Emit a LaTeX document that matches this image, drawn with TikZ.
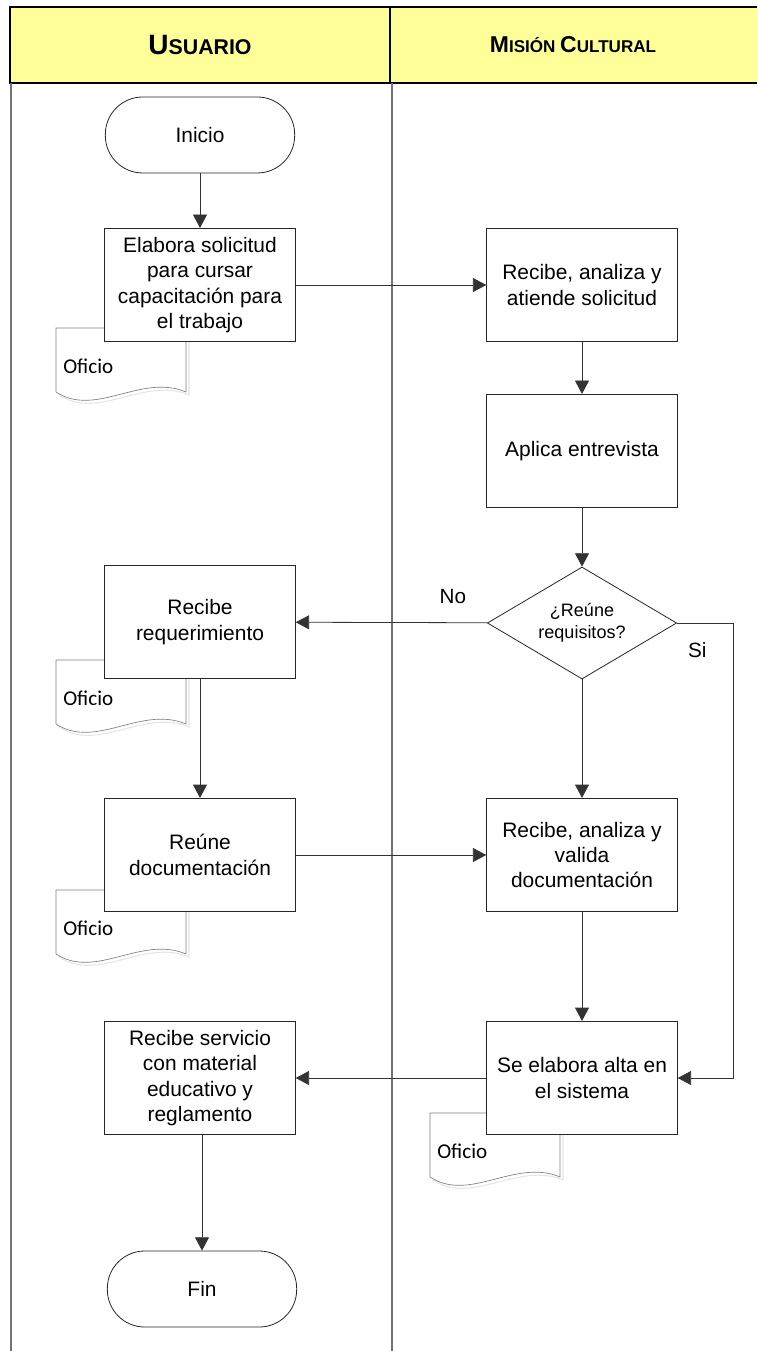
\documentclass[tikz,border=0pt]{standalone}
\usepackage{fontspec}
\setmainfont{Liberation Sans}
\newfontfamily\boxfont{Liberation Sans}
\newfontfamily\oficiofont{Carlito}
\usetikzlibrary{shapes.geometric,arrows.meta}
\definecolor{lanehead}{HTML}{FFFF99}

% document symbol with its label
\newcommand{\oficio}[3]{%
    \draw[docshadow] (#1+3,#2+3) -- ++(130,0) -- ++(0,64)
        .. controls ++(-45,-19) and ++(40,26) .. ++(-130,0) -- cycle;
    \draw[docline] (#1,#2) -- ++(130,0) -- ++(0,64)
        .. controls ++(-45,-19) and ++(40,26) .. ++(-130,0) -- cycle;
    \node[doctext] (#3) at (#1+7,#2+38) {Oficio};
}

\begin{document}
\begin{tikzpicture}[x=0.75pt, y=-0.75pt,
    block/.style={rectangle, draw=black!85, fill=white, line width=0.6pt, minimum width=143pt, minimum height=85pt, inner sep=2pt, align=center, font=\boxfont\fontsize{15.7}{19}\selectfont},
    term/.style={block, minimum width=142pt, minimum height=57pt, rounded corners=28pt},
    decision/.style={diamond, draw=black!85, fill=white, line width=0.6pt, minimum width=142pt, minimum height=84pt, inner sep=0pt, shape aspect=1.7, align=center, font=\boxfont\fontsize{13.5}{16.3}\selectfont},
    arrow/.style={-{Triangle[length=10pt,width=10.5pt]}, draw=black!80, line width=0.6pt},
    docline/.style={draw=gray, fill=white, line width=0.5pt},
    docshadow/.style={draw=gray!20, line width=0.8pt},
    doctext/.style={anchor=west, inner sep=0pt, font=\oficiofont\fontsize{15.8}{18}\selectfont},
    lbl/.style={font=\boxfont\fontsize{15.5}{18}\selectfont},
    lane/.style={draw=gray!90!black, line width=0.8pt}]

    \useasboundingbox (0,0) rectangle (757,1351);

    % Lanes
    \fill[lanehead] (10,7) rectangle (757,83);
    \draw[black, line width=0.8pt] (757,7) -- (10,7) -- (10,83) -- (757,83);
    \draw[black, line width=0.8pt] (390,7) -- (390,83);
    \draw[lane] (11,83) -- (11,1351);
    \draw[lane] (392,83) -- (392,1351);
    \node[font=\boxfont\bfseries] (husu) at (200,45) {\fontsize{21}{21}\selectfont U\fontsize{16}{16}\selectfont SUARIO};
    \node[font=\boxfont\bfseries] (hmis) at (573,45) {\fontsize{17.2}{18}\selectfont M\fontsize{12.8}{13}\selectfont ISIÓN \fontsize{17.2}{18}\selectfont C\fontsize{12.8}{13}\selectfont ULTURAL};

    % Documents
    \oficio{56}{328}{of1}
    \oficio{56}{660}{of2}
    \oficio{56}{890}{of3}
    \oficio{430}{1113}{of4}

    % Usuario
    \node[term] (ini) at (200,135) {Inicio};
    \node[block] (sol) at (200,285) {Elabora solicitud\\para cursar\\capacitación para\\el trabajo};
    \node[block] (rreq) at (200,622) {Recibe\\requerimiento};
    \node[block] (reu) at (200,855) {Reúne\\documentación};
    \node[block] (serv) at (200,1078) {Recibe servicio\\con material\\educativo y\\reglamento};
    \node[term] (fin) at (202,1289) {Fin};

    % Mision Cultural
    \node[block] (ana) at (582,285) {Recibe, analiza y\\atiende solicitud};
    \node[block] (ent) at (582,451) {Aplica entrevista};
    \node[decision] (dec) at (582,623) {¿Reúne\\requisitos?};
    \node[block] (val) at (582,855) {Recibe, analiza y\\valida\\documentación};
    \node[block] (alta) at (582,1078) {Se elabora alta en\\el sistema};

    % Arrows
    \draw[arrow] (ini) -- (sol);
    \draw[arrow] (sol) -- (ana);
    \draw[arrow] (ana) -- (ent);
    \draw[arrow] (ent) -- (dec);
    \draw[arrow] (dec) -- (rreq)
        node[lbl, pos=0.18, yshift=20pt] (no) {No};
    \draw[arrow] (dec) -- (val);
    \draw[arrow] (dec.east) -- ++(56,0)
        node[lbl, pos=0.36, yshift=-20pt] (si) {Si} |- (alta.east);
    \draw[arrow] (rreq) -- (reu);
    \draw[arrow] (reu) -- (val);
    \draw[arrow] (val) -- (alta);
    \draw[arrow] (alta) -- (serv);
    \draw[arrow] (serv.south -| fin) -- (fin);

\end{tikzpicture}
\end{document}
